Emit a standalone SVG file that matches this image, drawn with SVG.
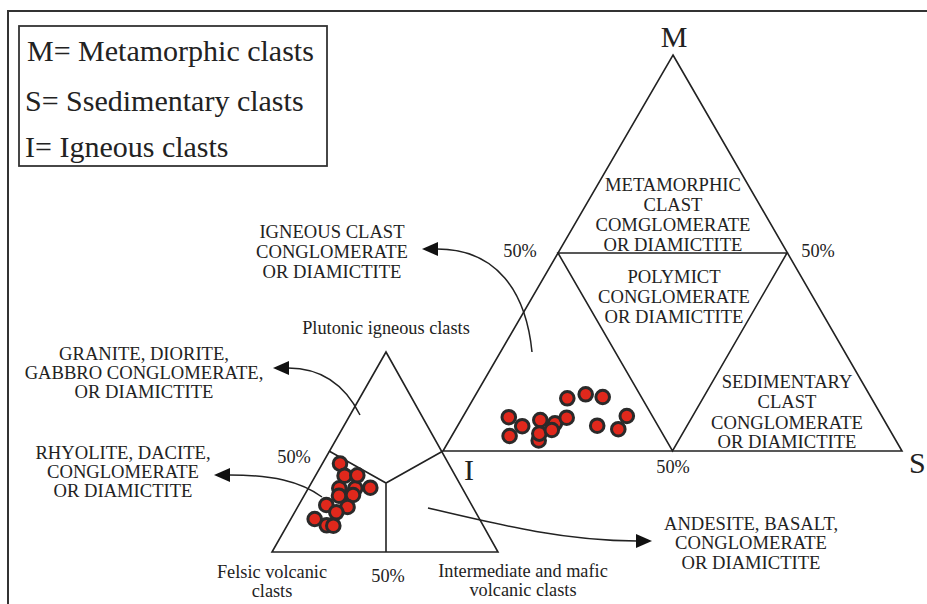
<svg xmlns="http://www.w3.org/2000/svg" width="927" height="604" viewBox="0 0 927 604">
<style>
text{font-family:"Liberation Serif","Times New Roman",serif;fill:#222}
.cap{font-size:18.6px;text-anchor:middle}
.sm{font-size:18.3px;text-anchor:middle}
.leg{font-size:30px}
.big{font-size:30px}
.ln{fill:none;stroke:#222;stroke-width:1.6;stroke-linejoin:miter}
.arr{fill:none;stroke:#222;stroke-width:1.5}
.pt{fill:#e0281c;stroke:#2a2a2a;stroke-width:3}
</style>
<defs>
<marker id="ah" viewBox="0 0 16 14" refX="1" refY="7" markerWidth="16" markerHeight="14" markerUnits="userSpaceOnUse" orient="auto">
<path d="M0,0 L16,7 L0,14 z" fill="#111"/>
</marker>
</defs>
<rect x="0" y="0" width="927" height="604" fill="#fff"/>
<rect x="8" y="11" width="940" height="620" fill="none" stroke="#333" stroke-width="2"/>
<g id="legend">
<rect x="19" y="26" width="308" height="140" fill="none" stroke="#333" stroke-width="1.8"/>
<text class="leg" x="27" y="61">M= Metamorphic clasts</text>
<text class="leg" x="25" y="111">S= Ssedimentary clasts</text>
<text class="leg" x="25" y="157">I= Igneous clasts</text>
</g>
<g id="ternary-MSI">
<path class="ln" d="M673,55 L902,451 L443,451 Z"/>
<path class="ln" d="M558,253 L787,253 L672.5,451 Z"/>
<text class="big" x="674" y="47" text-anchor="middle">M</text>
<text class="big" x="909" y="473">S</text>
<text class="big" x="464" y="480">I</text>
<text class="sm" x="520" y="257">50%</text>
<text class="sm" x="818" y="257">50%</text>
<text class="sm" x="673" y="473">50%</text>
</g>
<g id="field-metamorphic">
<text class="cap" x="673" y="191">METAMORPHIC</text>
<text class="cap" x="673" y="211">CLAST</text>
<text class="cap" x="673" y="231">COMGLOMERATE</text>
<text class="cap" x="673" y="251">OR DIAMICTITE</text>
</g>
<g id="field-polymict">
<text class="cap" x="674" y="283">POLYMICT</text>
<text class="cap" x="674" y="303">CONGLOMERATE</text>
<text class="cap" x="674" y="323">OR DIAMICTITE</text>
</g>
<g id="field-sedimentary">
<text class="cap" x="787" y="388">SEDIMENTARY</text>
<text class="cap" x="787" y="408">CLAST</text>
<text class="cap" x="787" y="429">CONGLOMERATE</text>
<text class="cap" x="787" y="448">OR DIAMICTITE</text>
</g>
<g id="ternary-igneous">
<path class="ln" d="M386,352 L498,552 L272,552 Z"/>
<path class="ln" d="M329,451 L386,483 L443,451 M386,483 L386,552"/>
<text class="sm" x="386" y="334">Plutonic igneous clasts</text>
<text class="sm" x="294" y="463">50%</text>
<text class="sm" x="388" y="582">50%</text>
<text class="sm" x="272" y="578">Felsic volcanic</text>
<text class="sm" x="272" y="597">clasts</text>
<text class="sm" x="523" y="577">Intermediate and mafic</text>
<text class="sm" x="523" y="596">volcanic clasts</text>
</g>
<g id="label-igneous-clast">
<text class="cap" x="332" y="238">IGNEOUS CLAST</text>
<text class="cap" x="332" y="258">CONGLOMERATE</text>
<text class="cap" x="332" y="278">OR DIAMICTITE</text>
</g>
<g id="label-granite">
<text class="cap" x="144" y="360">GRANITE, DIORITE,</text>
<text class="cap" x="144" y="379">GABBRO CONGLOMERATE,</text>
<text class="cap" x="144" y="398">OR DIAMICTITE</text>
</g>
<g id="label-rhyolite">
<text class="cap" x="123" y="459">RHYOLITE, DACITE,</text>
<text class="cap" x="123" y="478">CONGLOMERATE</text>
<text class="cap" x="123" y="497">OR DIAMICTITE</text>
</g>
<g id="label-andesite">
<text class="cap" x="751" y="530">ANDESITE, BASALT,</text>
<text class="cap" x="751" y="549">CONGLOMERATE</text>
<text class="cap" x="751" y="569">OR DIAMICTITE</text>
</g>
<g id="points-MSI">
<circle class="pt" cx="555" cy="423.3" r="6.8"/>
<circle class="pt" cx="538.7" cy="440.5" r="6.8"/>
<circle class="pt" cx="567.3" cy="398.3" r="6.8"/>
<circle class="pt" cx="585.7" cy="394.3" r="6.8"/>
<circle class="pt" cx="602.7" cy="397" r="6.8"/>
<circle class="pt" cx="508.8" cy="417.2" r="6.8"/>
<circle class="pt" cx="522.2" cy="426.2" r="6.8"/>
<circle class="pt" cx="540.3" cy="420" r="6.8"/>
<circle class="pt" cx="566.7" cy="417.7" r="6.8"/>
<circle class="pt" cx="509.6" cy="436" r="6.8"/>
<circle class="pt" cx="539.3" cy="433.6" r="6.8"/>
<circle class="pt" cx="551.8" cy="430" r="6.8"/>
<circle class="pt" cx="597.2" cy="425.7" r="6.8"/>
<circle class="pt" cx="618.3" cy="429.2" r="6.8"/>
<circle class="pt" cx="626.8" cy="416" r="6.8"/>
</g>
<g id="points-igneous">
<circle class="pt" cx="339.3" cy="488.3" r="6.8"/>
<circle class="pt" cx="355.3" cy="488.3" r="6.8"/>
<circle class="pt" cx="326.7" cy="525.3" r="6.8"/>
<circle class="pt" cx="340" cy="463.6" r="6.8"/>
<circle class="pt" cx="344.6" cy="475.7" r="6.8"/>
<circle class="pt" cx="357.3" cy="475.3" r="6.8"/>
<circle class="pt" cx="370.3" cy="487.7" r="6.8"/>
<circle class="pt" cx="339" cy="495.7" r="6.8"/>
<circle class="pt" cx="353" cy="495" r="6.8"/>
<circle class="pt" cx="326.3" cy="505" r="6.8"/>
<circle class="pt" cx="347.5" cy="507" r="6.8"/>
<circle class="pt" cx="336.3" cy="512.3" r="6.8"/>
<circle class="pt" cx="314.7" cy="519" r="6.8"/>
<circle class="pt" cx="333.3" cy="525.7" r="6.8"/>
</g>
<g id="connectors">
<path class="arr" d="M532,352 C526,292 497,249 437,249" marker-end="url(#ah)"/>
<path class="arr" d="M360,415 C345,385 322,368 288,368" marker-end="url(#ah)"/>
<path class="arr" d="M322,497 C300,481 272,475 229,475" marker-end="url(#ah)"/>
<path class="arr" d="M428,508 C500,525 565,541 637,541" marker-end="url(#ah)"/>
</g>
</svg>
